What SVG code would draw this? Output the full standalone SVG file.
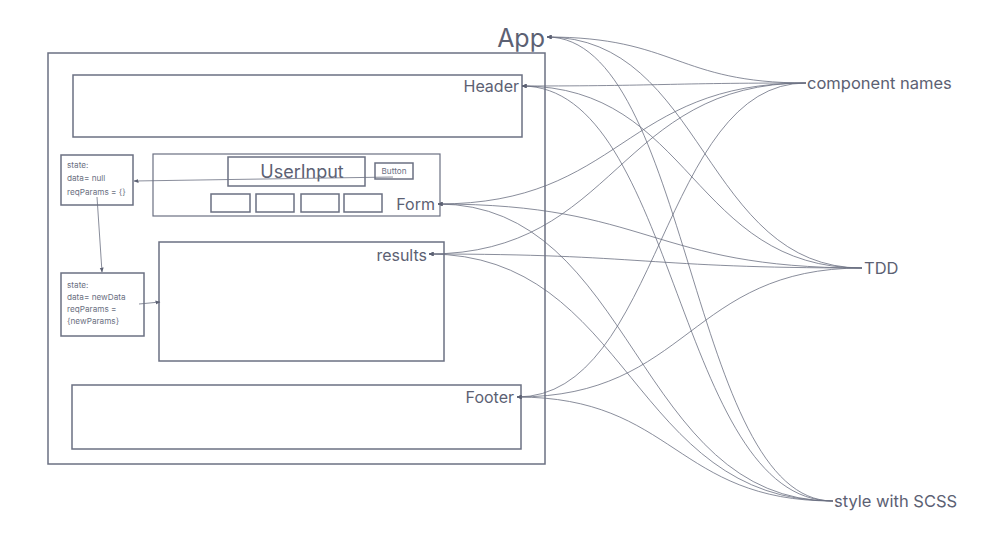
<svg xmlns="http://www.w3.org/2000/svg" width="996" height="534" viewBox="0 0 996 534">
  <style>
    .box { fill: none; stroke: #6b7082; stroke-width: 1.5; }
    .thin { fill: none; stroke: #6b7082; stroke-width: 1.2; }
    .link { fill: none; stroke: #6b7082; stroke-width: 0.8; }
    .lbl { font-family: Inter, "Liberation Sans", sans-serif; fill: #5c6173; }
    .small { font-family: Inter, "Liberation Sans", sans-serif; fill: #6b7082; font-size: 8.2px; }
  </style>
  <defs>
    <marker id="head" viewBox="0 0 10 10" refX="9" refY="5" markerWidth="5" markerHeight="5" orient="auto-start-reverse" markerUnits="userSpaceOnUse">
      <path d="M0,1 L10,5 L0,9 Z" fill="#5c6173"/>
    </marker>
  </defs>
  <rect width="996" height="534" fill="#ffffff"/>

  <!-- App container -->
  <g id="app">
    <rect class="box" x="48" y="53" width="497" height="411"/>
    <text class="lbl" x="545" y="47" font-size="25" text-anchor="end">App</text>
  </g>

  <g id="header">
    <rect class="box" x="73" y="75" width="449" height="62"/>
    <text class="lbl" x="519" y="92" font-size="16" text-anchor="end">Header</text>
  </g>

  <g id="state-initial">
    <rect class="box" x="61" y="155" width="72" height="50"/>
    <text class="small" x="67" y="168">state:</text>
    <text class="small" x="67" y="181">data= null</text>
    <text class="small" x="67" y="195">reqParams = {}</text>
  </g>

  <g id="form">
    <rect class="thin" x="153" y="154" width="287" height="62"/>
    <text class="lbl" x="435" y="210" font-size="16" text-anchor="end">Form</text>
  </g>

  <g id="user-input">
    <rect class="box" x="228" y="157" width="137" height="29"/>
    <text class="lbl" x="302" y="178" font-size="18" text-anchor="middle">UserInput</text>
  </g>

  <g id="button">
    <rect class="box" x="375" y="163" width="38" height="16"/>
    <text class="small" x="394" y="174" text-anchor="middle">Button</text>
  </g>

  <g id="fields">
    <rect class="box" x="211" y="194" width="39" height="18"/>
    <rect class="box" x="256" y="194" width="38" height="18"/>
    <rect class="box" x="301" y="194" width="38" height="18"/>
    <rect class="box" x="344" y="194" width="38" height="18"/>
  </g>

  <g id="state-updated">
    <rect class="box" x="61" y="273" width="83" height="63"/>
    <text class="small" x="67" y="288">state:</text>
    <text class="small" x="67" y="300">data= newData</text>
    <text class="small" x="67" y="312">reqParams =</text>
    <text class="small" x="67" y="324">{newParams}</text>
  </g>

  <g id="results">
    <rect class="box" x="159" y="242" width="285" height="119"/>
    <text class="lbl" x="427" y="261" font-size="16" text-anchor="end">results</text>
  </g>

  <g id="footer">
    <rect class="box" x="72" y="385" width="449" height="64"/>
    <text class="lbl" x="514" y="403" font-size="16" text-anchor="end">Footer</text>
  </g>

  <g id="component-names">
    <text class="lbl" x="807" y="89" font-size="16.5">component names</text>
  </g>
  <g id="tdd">
    <text class="lbl" x="864" y="274" font-size="16.5">TDD</text>
  </g>
  <g id="style-scss">
    <text class="lbl" x="834" y="507" font-size="16.5">style with SCSS</text>
  </g>

  <g id="connectors">
    <!-- state flow inside the app -->
    <path class="link" d="M393,177 L134,181" marker-end="url(#head)"/>
    <path class="link" d="M97,197 L102,272" marker-end="url(#head)"/>
    <path class="link" d="M139,304 L160,302" marker-end="url(#head)"/>

    <!-- component names -->
    <path class="link" d="M806,83 C676,83 676,37 547,37" marker-end="url(#head)"/>
    <path class="link" d="M806,83 C664,83 664,86 522,86" marker-end="url(#head)"/>
    <path class="link" d="M806,83 C622,83 622,204 438,204" marker-end="url(#head)"/>
    <path class="link" d="M806,83 C617,83 617,254 429,254" marker-end="url(#head)"/>
    <path class="link" d="M806,83 C661,83 661,397 517,397" marker-end="url(#head)"/>

    <!-- TDD -->
    <path class="link" d="M862,268 C704,268 704,37 547,37" marker-end="url(#head)"/>
    <path class="link" d="M862,268 C692,268 692,86 522,86" marker-end="url(#head)"/>
    <path class="link" d="M862,268 C650,268 650,204 438,204" marker-end="url(#head)"/>
    <path class="link" d="M862,268 C645,268 645,254 429,254" marker-end="url(#head)"/>
    <path class="link" d="M862,268 C689,268 689,397 517,397" marker-end="url(#head)"/>

    <!-- style with SCSS -->
    <path class="link" d="M833,501 C690,501 690,37 547,37" marker-end="url(#head)"/>
    <path class="link" d="M833,501 C677,501 677,86 522,86" marker-end="url(#head)"/>
    <path class="link" d="M833,501 C635,501 635,204 438,204" marker-end="url(#head)"/>
    <path class="link" d="M833,501 C631,501 631,254 429,254" marker-end="url(#head)"/>
    <path class="link" d="M833,501 C675,501 675,397 517,397" marker-end="url(#head)"/>
  </g>
</svg>
